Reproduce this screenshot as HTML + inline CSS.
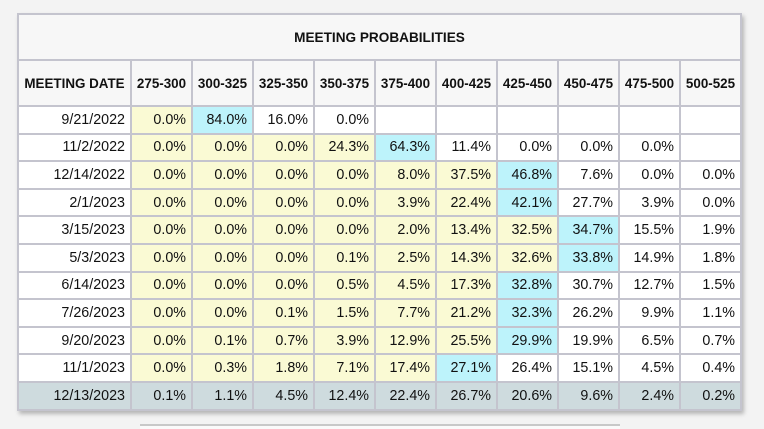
<!DOCTYPE html>
<html><head><meta charset="utf-8">
<style>
html,body{margin:0;padding:0;background:#f3f3f3;width:764px;height:427px;overflow:hidden;font-family:"Liberation Sans",Arial,sans-serif;}
#wrap{position:absolute;left:17px;top:13px;box-shadow:2px 3px 4px rgba(0,0,0,0.25);}
table{border-collapse:collapse;table-layout:fixed;background:#fff;}
td,th{border:2px solid #c4c4ce;padding:0 5px 0 0;font-size:14.3px;color:#111;text-align:right;height:25.6px;white-space:nowrap;}
th{font-size:13.4px;font-weight:bold;text-align:center;padding:0;height:44px;background:#f7f7f7;}
th.title{font-size:13.6px;height:44px;}
td.y{background:#fafad4;}
td.c{background:#bdf3fb;}
tr.last td{background:#cedbde;}
#under{position:absolute;left:140px;top:424px;width:480px;height:3px;border-top:2px solid #c8c8c8;background:#fafafa;}
</style></head><body>
<div id="wrap">
<table id="tbl">
<colgroup><col style="width:113px"><col style="width:61px"><col style="width:61px"><col style="width:61px"><col style="width:61px"><col style="width:61px"><col style="width:61px"><col style="width:61px"><col style="width:61px"><col style="width:61px"><col style="width:61px"></colgroup>
<thead>
<tr><th class="title" colspan="11">MEETING PROBABILITIES</th></tr>
<tr id="hdr"><th>MEETING DATE</th></tr>
</thead>
<tbody id="body"></tbody>
</table>
</div>
<div id="under"></div>
<script>
const ranges=["275-300","300-325","325-350","350-375","375-400","400-425","425-450","450-475","475-500","500-525"];
const dates=["9/21/2022","11/2/2022","12/14/2022","2/1/2023","3/15/2023","5/3/2023","6/14/2023","7/26/2023","9/20/2023","11/1/2023","12/13/2023"];
const r1=[0.0,84.0,16.0,0.0,null,null,null,null,null,null];
const r2=[0.0,0.0,0.0,24.3,64.3,11.4,0.0,0.0,0.0,null];
const r3=[0.0,0.0,0.0,0.0,8.0,37.5,46.8,7.6,0.0,0.0];
const r4=[0.0,0.0,0.0,0.0,3.9,22.4,42.1,27.7,3.9,0.0];
const r5=[0.0,0.0,0.0,0.0,2.0,13.4,32.5,34.7,15.5,1.9];
const r6=[0.0,0.0,0.0,0.1,2.5,14.3,32.6,33.8,14.9,1.8];
const r7=[0.0,0.0,0.0,0.5,4.5,17.3,32.8,30.7,12.7,1.5];
const r8=[0.0,0.0,0.1,1.5,7.7,21.2,32.3,26.2,9.9,1.1];
const r9=[0.0,0.1,0.7,3.9,12.9,25.5,29.9,19.9,6.5,0.7];
const r10=[0.0,0.3,1.8,7.1,17.4,27.1,26.4,15.1,4.5,0.4];
const r11=[0.1,1.1,4.5,12.4,22.4,26.7,20.6,9.6,2.4,0.2];
const rows=[r1,r2,r3,r4,r5,r6,r7,r8,r9,r10,r11];
const maxIdx=[1,4,6,6,7,7,6,6,6,5,-1];
const hdr=document.getElementById('hdr');
ranges.forEach(r=>{const th=document.createElement('th');th.textContent=r;


hdr.appendChild(th);});
const body=document.getElementById('body');
rows.forEach((row,i)=>{
 const tr=document.createElement('tr');
 
 
 if(i===rows.length-1) tr.className='last';
 const d=document.createElement('td');d.textContent=dates[i];
 
 
 tr.appendChild(d);
 row.forEach((v,j)=>{
  const td=document.createElement('td');
  
  
  if(v!==null){td.textContent=v.toFixed(1)+'%';}
  const m=maxIdx[i];
  if(m>=0){ if(j===m) td.className='c'; else if(j<m) td.className='y'; }
  tr.appendChild(td);
 });
 body.appendChild(tr);
});
</script>
</body></html>
